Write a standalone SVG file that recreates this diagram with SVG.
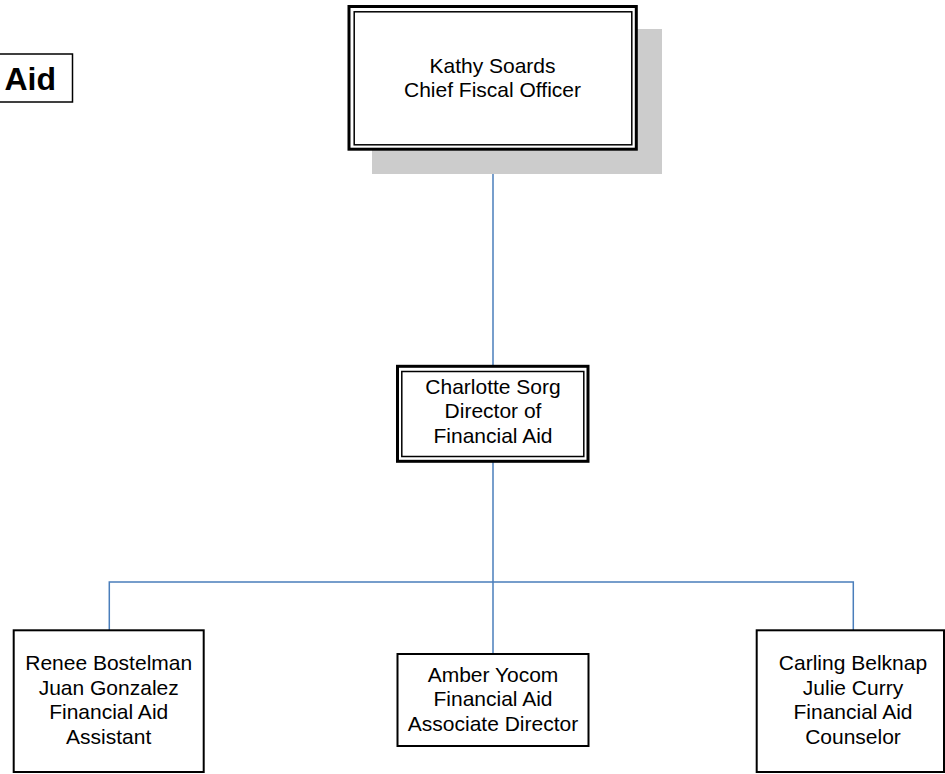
<svg xmlns="http://www.w3.org/2000/svg" width="945" height="774" viewBox="0 0 945 774">
<style>
  .t { font-family: "Liberation Sans", Arial, sans-serif; font-size: 21px; fill: #000; text-anchor: middle; }
  .title { font-family: "Liberation Sans", Arial, sans-serif; font-size: 32px; font-weight: bold; fill: #000; }
  .outer { fill: #fff; stroke: #000; stroke-width: 3; }
  .inner { fill: none; stroke: #000; stroke-width: 1.5; }
  .box { fill: #fff; stroke: #000; stroke-width: 2; }
  .conn { fill: none; stroke: #4a7ebb; stroke-width: 1.5; }
</style>
<rect width="945" height="774" fill="#fff"/>
<g id="title">
  <rect x="-5" y="54" width="77.5" height="48" fill="#fff" stroke="#000" stroke-width="1.5"/>
  <text class="title" x="56" y="90" text-anchor="end">Aid</text>
</g>
<g id="connectors">
  <line class="conn" x1="493" y1="150" x2="493" y2="365"/>
  <line class="conn" x1="493" y1="462" x2="493" y2="653"/>
  <polyline class="conn" points="109.3,630 109.3,582 853.3,582 853.3,630"/>
</g>
<g id="node-kathy">
  <rect x="372" y="29" width="290" height="145" fill="#cccccc"/>
  <rect class="outer" x="349" y="6.5" width="287.3" height="142.7"/>
  <rect class="inner" x="354.2" y="11.8" width="277.6" height="133"/>
  <text class="t" x="492.5" y="72.7">Kathy Soards</text>
  <text class="t" x="492.5" y="96.7">Chief Fiscal Officer</text>
</g>
<g id="node-charlotte">
  <rect class="outer" x="397.5" y="366.3" width="190.5" height="95"/>
  <rect class="inner" x="401.8" y="371.5" width="182" height="85"/>
  <text class="t" x="493" y="394.3">Charlotte Sorg</text>
  <text class="t" x="493" y="418.3">Director of</text>
  <text class="t" x="493" y="442.7">Financial Aid</text>
</g>
<g id="node-renee">
  <rect class="box" x="13.7" y="630.3" width="190" height="141.7"/>
  <text class="t" x="108.7" y="670">Renee Bostelman</text>
  <text class="t" x="108.7" y="694.5">Juan Gonzalez</text>
  <text class="t" x="108.7" y="719">Financial Aid</text>
  <text class="t" x="108.7" y="743.5">Assistant</text>
</g>
<g id="node-amber">
  <rect class="box" x="397.5" y="654" width="191" height="92"/>
  <text class="t" x="493" y="681.7">Amber Yocom</text>
  <text class="t" x="493" y="706">Financial Aid</text>
  <text class="t" x="493" y="730.5">Associate Director</text>
</g>
<g id="node-carling">
  <rect class="box" x="756.7" y="630.3" width="187.3" height="141.7"/>
  <text class="t" x="853" y="670">Carling Belknap</text>
  <text class="t" x="853" y="694.5">Julie Curry</text>
  <text class="t" x="853" y="719">Financial Aid</text>
  <text class="t" x="853" y="743.5">Counselor</text>
</g>
</svg>
